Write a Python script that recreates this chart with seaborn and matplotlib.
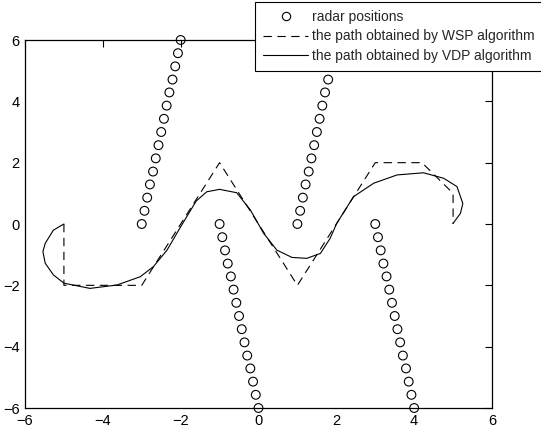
import pandas as pd
import matplotlib
matplotlib.use("Agg")
import matplotlib.pyplot as plt
from matplotlib.lines import Line2D
import seaborn as sns

# radar positions, four straight rows of 15 radars
radar1_x = [-3.00, -2.93, -2.86, -2.79, -2.71, -2.64, -2.57, -2.50, -2.43, -2.36, -2.29, -2.21, -2.14, -2.07, -2.00]
radar2_x = [-1.00, -0.93, -0.86, -0.79, -0.71, -0.64, -0.57, -0.50, -0.43, -0.36, -0.29, -0.21, -0.14, -0.07, 0.00]
radar3_x = [1.00, 1.07, 1.14, 1.21, 1.29, 1.36, 1.43, 1.50, 1.57, 1.64, 1.71, 1.79, 1.86, 1.93, 2.00]
radar4_x = [3.00, 3.07, 3.14, 3.21, 3.29, 3.36, 3.43, 3.50, 3.57, 3.64, 3.71, 3.79, 3.86, 3.93, 4.00]
radar_up_y = [0.00, 0.43, 0.86, 1.29, 1.71, 2.14, 2.57, 3.00, 3.43, 3.86, 4.29, 4.71, 5.14, 5.57, 6.00]
radar_down_y = [0.00, -0.43, -0.86, -1.29, -1.71, -2.14, -2.57, -3.00, -3.43, -3.86, -4.29, -4.71, -5.14, -5.57, -6.00]

# path from the WSP algorithm
wsp_x = [-5, -5, -3, -1, 1, 3, 4.2, 5, 5]
wsp_y = [0, -2, -2, 2, -2, 2, 2, 1, 0]

# path from the VDP algorithm
vdp_x = [-5.0, -5.27, -5.48, -5.54, -5.48, -5.27, -5.0, -4.33, -3.64, -3.04, -2.70, -2.35, -2.0,
         -1.6, -1.33, -1.0, -0.56, -0.21, 0.13, 0.47, 0.86, 1.24, 1.59, 1.84, 2.01, 2.44, 2.96,
         3.56, 4.24, 4.76, 5.10, 5.25, 5.19, 5.0]
vdp_y = [0.0, -0.2, -0.63, -0.9, -1.28, -1.66, -1.93, -2.1, -1.99, -1.72, -1.39, -0.85, -0.09,
         0.75, 1.05, 1.13, 1.02, 0.46, -0.30, -0.85, -1.09, -1.12, -0.96, -0.47, 0.02, 0.89, 1.33,
         1.6, 1.67, 1.49, 1.22, 0.67, 0.35, 0.02]

radars = pd.DataFrame({
    "x": radar1_x + radar2_x + radar3_x + radar4_x,
    "y": radar_up_y + radar_down_y + radar_up_y + radar_down_y,
})
wsp = pd.DataFrame({"x": wsp_x, "y": wsp_y})
vdp = pd.DataFrame({"x": vdp_x, "y": vdp_y})

sns.set_style("white")
plt.rcParams["font.family"] = ["Liberation Sans", "DejaVu Sans"]
plt.rcParams["lines.scale_dashes"] = False

fig = plt.figure(figsize=(5.41, 4.30), dpi=100)
ax = fig.add_axes([25 / 541, 22 / 430, 467 / 541, 368 / 430])

sns.scatterplot(data=radars, x="x", y="y", ax=ax, marker="o", s=40,
                facecolor="none", edgecolor="black", linewidth=0.8, clip_on=False, zorder=3)
sns.lineplot(data=wsp, x="x", y="y", sort=False, estimator=None, ax=ax,
             color="black", linewidth=0.8, linestyle=(0, (6, 4)))
sns.lineplot(data=vdp, x="x", y="y", sort=False, estimator=None, ax=ax,
             color="black", linewidth=0.8)

ax.set_xlim(-6, 6)
ax.set_ylim(-6, 6)
ax.set_xticks([-6, -4, -2, 0, 2, 4, 6])
ax.set_yticks([-6, -4, -2, 0, 2, 4, 6])
ax.set_xlabel("")
ax.set_ylabel("")
ax.tick_params(direction="in", length=5, width=0.8, top=True, right=True,
               labelsize=10.5, colors="black", pad=4)
for s in ax.spines.values():
    s.set_color("black")
    s.set_linewidth(0.9)

handles = [
    Line2D([], [], marker="o", linestyle="none", markerfacecolor="none",
           markeredgecolor="black", markersize=6, markeredgewidth=0.8),
    Line2D([], [], color="black", linewidth=0.8, linestyle=(0, (6, 4))),
    Line2D([], [], color="black", linewidth=0.8),
]
labels = ["radar positions", "the path obtained by WSP algorithm",
          "the path obtained by VDP algorithm"]
leg = ax.legend(handles, labels, loc="upper left", bbox_to_anchor=(255 / 541, 1 - 2 / 430),
                bbox_transform=fig.transFigure, borderaxespad=0, fontsize=10,
                frameon=True, fancybox=False, framealpha=1, handlelength=3.3,
                handletextpad=0.25, labelspacing=0.42, borderpad=0.55)
leg.get_frame().set_edgecolor("black")
leg.get_frame().set_linewidth(0.8)

fig.savefig("out.png", dpi=100)
